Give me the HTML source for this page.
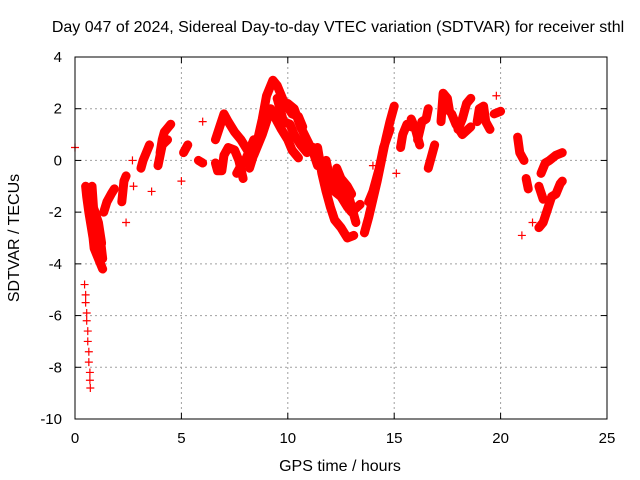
<!DOCTYPE html>
<html><head><meta charset="utf-8"><style>
body{margin:0;background:#fff}
svg{display:block;font-family:"Liberation Sans",sans-serif}
</style></head><body>
<svg id="chart" width="640" height="480">
<text x="338" y="32" font-size="16" text-anchor="middle">Day 047 of 2024, Sidereal Day-to-day VTEC variation (SDTVAR) for receiver sthl</text>
<text x="340" y="471" font-size="16" text-anchor="middle">GPS time / hours</text>
<text x="19" y="238" font-size="16" text-anchor="middle" transform="rotate(-90 19 238)">SDTVAR / TECUs</text>
<g id="grid"></g>
<g id="marks"></g>
<rect x="75" y="57" width="532" height="362" fill="none" stroke="#000"/>
<g id="ticks"></g>
</svg>
<script>
const xTicks=[0,5,10,15,20,25];
const yTicks=[4,2,0,-2,-4,-6,-8,-10];
const tracks=[
[[0.5,-1.0],[0.55,-1.4],[0.65,-2.0],[0.75,-2.5],[0.85,-3.0],[0.9,-3.4],[1.0,-3.6],[1.15,-3.9],[1.3,-4.2]],
[[0.8,-1.0],[0.85,-1.6],[0.9,-2.2],[1.0,-2.8],[1.2,-3.1],[1.3,-3.8]],
[[0.6,-1.2],[0.7,-1.6],[0.9,-1.9],[1.1,-2.4],[1.25,-3.2]],
[[1.35,-2.0],[1.5,-1.6],[1.7,-1.3],[1.85,-1.1]],
[[2.2,-1.6],[2.25,-1.2],[2.3,-0.8],[2.4,-0.6]],
[[3.1,-0.3],[3.2,0],[3.35,0.3],[3.5,0.6]],
[[4.0,0.3],[4.1,0.8],[4.2,1.1],[4.4,1.3],[4.5,1.4]],
[[3.9,-0.2],[4.0,0.2],[4.1,0.6],[4.35,0.8]],
[[5.1,0.3],[5.3,0.6]],
[[5.8,0.0],[6.0,-0.1]],
[[6.6,-0.1],[6.7,-0.4],[6.9,-0.4],[7.0,0.2],[7.2,0.5],[7.5,0.4],[7.7,0.0],[7.9,-0.7]],
[[6.6,0.8],[6.8,1.3],[7.0,1.8],[7.2,1.5],[7.5,1.1],[7.8,0.8],[8.1,0.4],[8.3,0.1]],
[[7.6,-0.5],[7.8,-0.2],[8.0,0.0],[8.2,0.4],[8.4,0.8]],
[[8.2,-0.3],[8.5,0.5],[8.8,1.6],[9.0,2.5],[9.3,3.1],[9.5,2.9],[9.8,2.3],[10.2,1.8],[10.5,1.7],[10.7,1.3]],
[[8.4,0.2],[8.8,1.0],[9.0,1.5],[9.2,2.0],[9.5,1.5],[9.7,1.2],[10.0,0.8],[10.2,0.4],[10.5,0.1]],
[[9.5,2.4],[9.8,1.5],[10.1,1.4],[10.3,1.0],[10.6,0.6],[10.9,0.3],[11.2,0.5],[11.5,0]],
[[10.0,2.2],[10.3,2.0],[10.6,1.3],[10.9,0.8],[11.2,0.3],[11.4,-0.2]],
[[11.4,0.5],[11.6,-0.5],[11.8,-1.2],[12.0,-1.8],[12.2,-2.3],[12.5,-2.6],[12.8,-3.0],[13.1,-2.9]],
[[11.8,0],[12.0,-0.8],[12.2,-1.2],[12.5,-1.4],[12.8,-1.8],[13.0,-2.0],[13.4,-1.7]],
[[12.3,-0.3],[12.5,-0.7],[12.8,-1.0],[13.0,-1.3]],
[[11.6,-0.2],[11.9,-0.6],[12.1,-0.5],[12.4,-1.0],[12.6,-1.2],[12.9,-1.5],[13.2,-2.4]],
[[13.6,-2.8],[13.8,-2.2],[14.0,-1.5],[14.2,-0.8],[14.4,0],[14.6,0.8],[14.8,1.5],[15.0,2.1]],
[[13.8,-1.6],[14.0,-1.2],[14.3,-0.3],[14.5,0.5],[14.8,1.2]],
[[15.3,0.5],[15.4,1.0],[15.6,1.4],[15.8,1.3]],
[[15.8,1.6],[16.0,1.2],[16.2,0.6]],
[[16.1,0.8],[16.3,1.5],[16.5,1.6],[16.6,2.0]],
[[16.6,-0.3],[16.8,0.3],[16.9,0.6]],
[[17.2,1.5],[17.3,2.6],[17.5,2.4],[17.6,1.9]],
[[18.0,1.2],[18.2,1.6],[18.4,2.2],[18.6,2.4]],
[[17.7,1.8],[17.9,1.4],[18.2,1.0],[18.6,1.3]],
[[18.9,1.5],[19.0,2.0],[19.2,2.1],[19.3,1.5],[19.5,1.2]],
[[19.7,1.8],[20.0,1.9]],
[[20.8,0.9],[20.9,0.3],[21.1,0.0]],
[[21.2,-0.7],[21.3,-1.1]],
[[21.9,-0.5],[22.1,-0.1],[22.3,0.0],[22.6,0.2],[22.9,0.3]],
[[21.8,-2.6],[22.0,-2.4],[22.2,-1.9],[22.4,-1.4],[22.6,-1.3],[22.8,-0.9],[22.9,-0.8]],
[[21.8,-1.0],[22.0,-1.5]]
];
const loosePoints=[[0.45,-4.8],[0.5,-5.2],[0.5,-5.5],[0.55,-5.9],[0.55,-6.2],[0.6,-6.6],[0.6,-7.0],[0.65,-7.4],[0.65,-7.8],[0.7,-8.2],[0.7,-8.5],[0.72,-8.8],
[0,0.5],[2.75,-1.0],[2.7,0],[5.0,-0.8],[6.0,1.5],[15.1,-0.5],[19.8,2.5],[21.0,-2.9],[21.5,-2.4],[2.4,-2.4],[3.6,-1.2],[14.0,-0.2]];
const X0=75,X1=607,Y0=419,Y1=57,XMIN=0,XMAX=25,YMIN=-10,YMAX=4;
const xs=t=>X0+(t-XMIN)/(XMAX-XMIN)*(X1-X0);
const ys=v=>Y0-(v-YMIN)/(YMAX-YMIN)*(Y0-Y1);
const NS="http://www.w3.org/2000/svg";
const grid=document.getElementById('grid'),ticks=document.getElementById('ticks'),marks=document.getElementById('marks');
function mk(tag,attrs,parent){const e=document.createElementNS(NS,tag);for(const k in attrs)e.setAttribute(k,attrs[k]);parent.appendChild(e);return e;}
xTicks.forEach(t=>{
 const x=xs(t);
 if(t>XMIN&&t<XMAX){const g=mk('line',{x1:x,x2:x,y1:Y1,y2:Y0,stroke:'#a0a0a0','stroke-dasharray':'2,3'},grid);
 
 }
 const l=mk('line',{x1:x,x2:x,y1:Y0,y2:Y0-6,stroke:'#000'},ticks);
 
 
 const l2=mk('line',{x1:x,x2:x,y1:Y1,y2:Y1+6,stroke:'#000'},ticks);
 
 
 const tx=mk('text',{x:x,y:443,'font-size':15,'text-anchor':'middle'},ticks);tx.textContent=t;
 
 
});
yTicks.forEach(v=>{
 const y=ys(v);
 if(v>YMIN&&v<YMAX){const g=mk('line',{x1:X0,x2:X1,y1:y,y2:y,stroke:'#a0a0a0','stroke-dasharray':'2,3'},grid);
 
 }
 const l=mk('line',{x1:X0,x2:X0+6,y1:y,y2:y,stroke:'#000'},ticks);
 
 
 const l2=mk('line',{x1:X1,x2:X1-6,y1:y,y2:y,stroke:'#000'},ticks);
 
 
 const tx=mk('text',{x:62,y:y+5,'font-size':15,'text-anchor':'end'},ticks);tx.textContent=v;
 
 
});
function plus(t,v){
 const x=xs(t),y=ys(v);
 const p=mk('path',{d:`M${x-4},${y}H${x+4}M${x},${y-4}V${y+4}`,stroke:'#ff0000','stroke-width':1.2},marks);
 
 
}
tracks.forEach(tr=>{
 const pl=mk('polyline',{points:tr.map(p=>xs(p[0])+','+ys(p[1])).join(' '),fill:'none',stroke:'#ff0000','stroke-width':9,'stroke-linejoin':'round','stroke-linecap':'round'},marks);
 
 
 tr.forEach(p=>plus(p[0],p[1]));
});
loosePoints.forEach(p=>plus(p[0],p[1]));
</script>
</body></html>
